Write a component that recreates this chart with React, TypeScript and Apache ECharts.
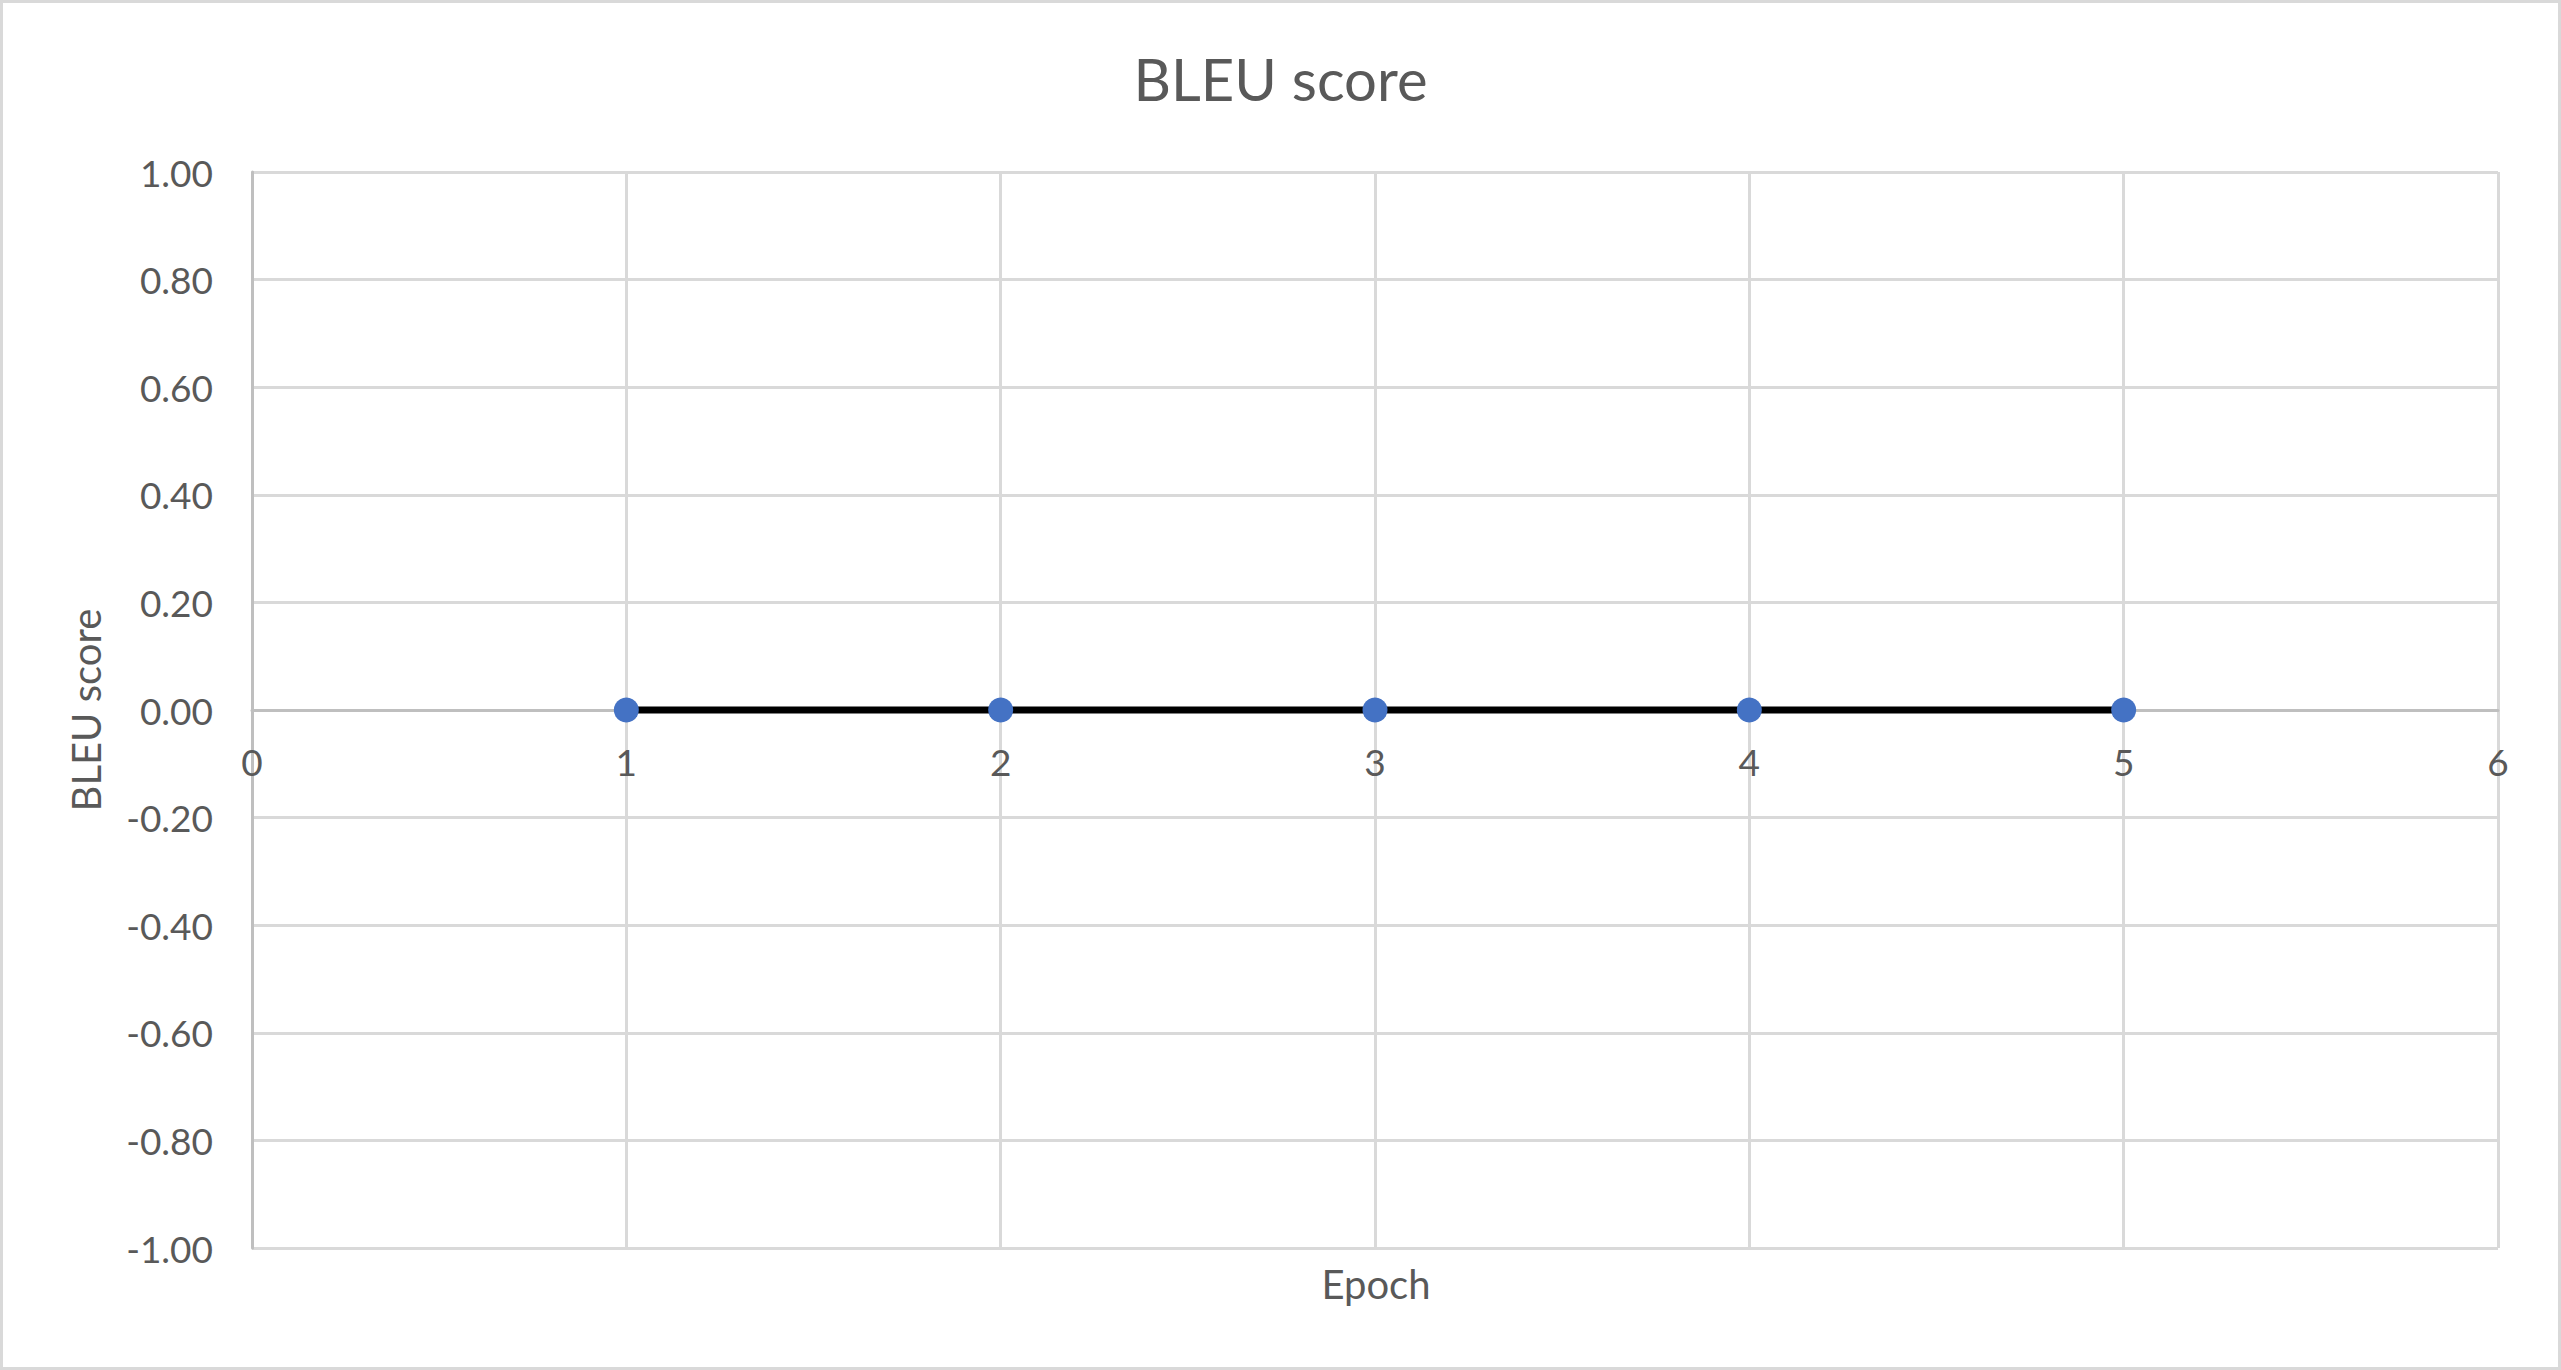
import React, { useEffect, useRef } from "react";
import * as echarts from "echarts";

const chartTitle = "BLEU score";
const xAxisTitle = "Epoch";
const yAxisTitle = "BLEU score";
const epochs = [1, 2, 3, 4, 5];
const bleuScores = [0, 0, 0, 0, 0];
const yTicks = { min: -1, max: 1, step: 0.2 };
const xTicks = { min: 0, max: 6, step: 1 };

const TEXT = "#595959";
const GRID = "#d9d9d9";
const AXIS = "#bfbfbf";
const FONT = "Lato";

const W = 2561;
const H = 1370;
const GRID_BOX = { left: 252, right: 63, top: 172, bottom: 122 };

export default function App() {
  const ref = useRef<HTMLDivElement>(null);
  useEffect(() => {
    if (!ref.current) return;
    const chart = echarts.init(ref.current, null, { renderer: "svg" });
    const data = epochs.map((e, i) => [e, bleuScores[i]]);
    const plotH = H - GRID_BOX.top - GRID_BOX.bottom;
    // place the x axis where y = 0 crosses (Excel style)
    const zeroOffset = -plotH * ((0 - yTicks.min) / (yTicks.max - yTicks.min));
    chart.setOption({
      animation: false,
      backgroundColor: "#ffffff",
      title: {
        text: chartTitle,
        left: "center",
        top: 44,
        textStyle: { fontFamily: FONT, fontSize: 58, fontWeight: "normal", color: TEXT },
      },
      grid: { ...GRID_BOX, containLabel: false },
      xAxis: {
        type: "value",
        min: xTicks.min,
        max: xTicks.max,
        interval: xTicks.step,
        position: "bottom",
        offset: zeroOffset,
        axisLine: { show: true, onZero: false, lineStyle: { color: AXIS, width: 3 } },
        axisTick: { show: false },
        axisLabel: { margin: 33, fontFamily: FONT, fontSize: 37, color: TEXT },
        splitLine: { show: true, lineStyle: { color: GRID, width: 3 } },
      },
      yAxis: {
        type: "value",
        min: yTicks.min,
        max: yTicks.max,
        interval: yTicks.step,
        axisLine: { show: true, onZero: false, lineStyle: { color: AXIS, width: 3 } },
        axisTick: { show: false },
        axisLabel: {
          margin: 39,
          fontFamily: FONT,
          fontSize: 37,
          color: TEXT,
          formatter: (v: number) => v.toFixed(2),
        },
        splitLine: { show: true, lineStyle: { color: GRID, width: 3 } },
      },
      graphic: [
        {
          type: "rect",
          shape: { x: 1.5, y: 1.5, width: W - 3, height: H - 3 },
          style: { fill: "none", stroke: GRID, lineWidth: 3 },
          silent: true,
        },
        {
          type: "text",
          x: 1376,
          y: 1284,
          style: {
            text: xAxisTitle,
            font: `40px ${FONT}`,
            fill: TEXT,
            align: "center",
            verticalAlign: "middle",
          },
        },
        {
          type: "text",
          x: 86,
          y: 710,
          rotation: Math.PI / 2,
          style: {
            text: yAxisTitle,
            font: `40px ${FONT}`,
            fill: TEXT,
            align: "center",
            verticalAlign: "middle",
          },
        },
      ],
      series: [
        {
          type: "line",
          data,
          symbol: "circle",
          symbolSize: 25,
          itemStyle: { color: "#4472c4" },
          lineStyle: { color: "#000000", width: 7 },
          z: 5,
        },
      ],
    });
    return () => chart.dispose();
  }, []);
  return (
    <div
      ref={ref}
      style={{ position: "fixed", left: 0, top: 0, width: `${W}px`, height: `${H}px` }}
    />
  );
}
